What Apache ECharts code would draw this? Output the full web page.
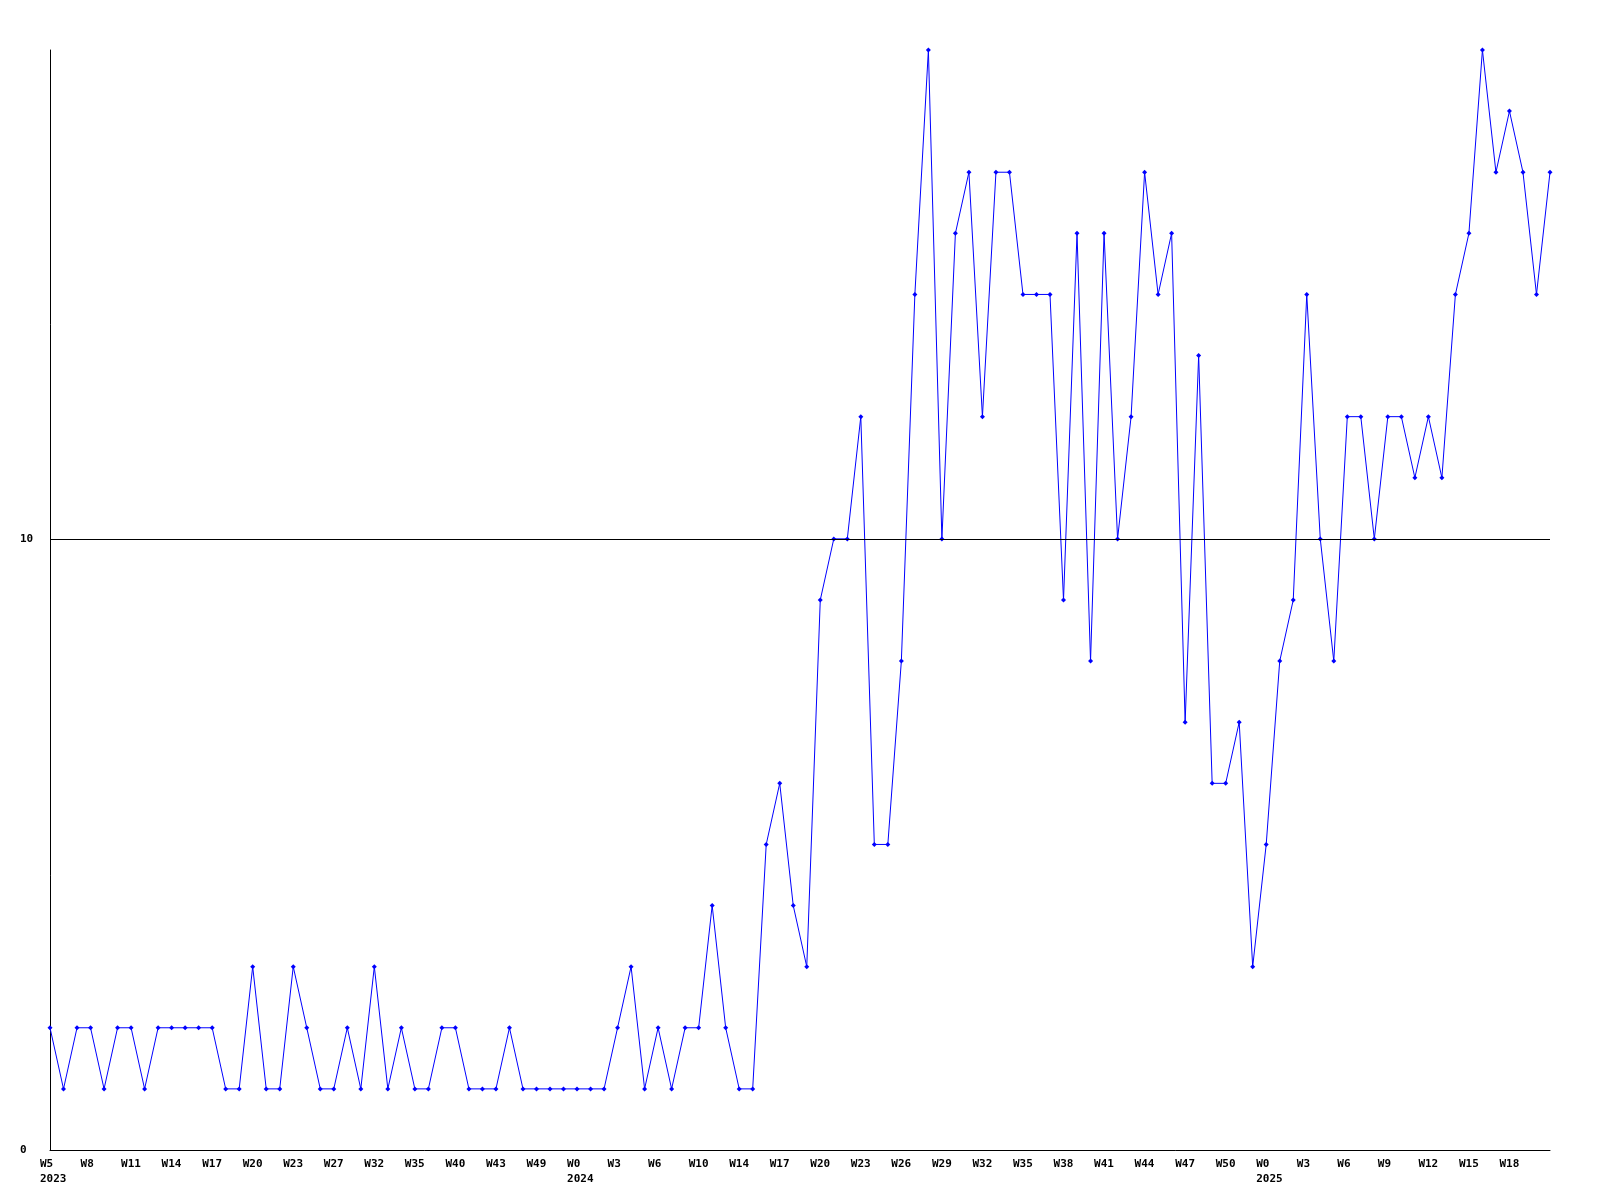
<!DOCTYPE html>
<html>
<head>
<meta charset="utf-8">
<script src="https://cdn.jsdelivr.net/npm/echarts@6/dist/echarts.min.js"></script>
<style>
html,body{margin:0;padding:0;background:#fff;}
#chart{width:1600px;height:1200px;}
</style>
</head>
<body>
<div id="chart"></div>
<script>
// Week numbers of each data point (only every third one is labelled on the axis)
const weeks = [
  5,6,7,8,9,10,11,12,13,14,15,16,17,18,19,20,21,22,23,24,25,27,28,30,32,33,34,35,37,38,
  40,41,42,43,45,47,49,50,51,
  0,1,2,3,4,5,6,8,9,10,12,13,14,15,16,17,18,19,20,21,22,23,24,25,26,27,28,29,30,31,32,
  33,34,35,36,37,38,39,40,41,42,43,44,45,46,47,48,49,50,51,52,
  0,1,2,3,4,5,6,7,8,9,10,11,12,13,14,15,16,17,18,19,20,21
];
const years = [
  2023,2023,2023,2023,2023,2023,2023,2023,2023,2023,2023,2023,2023,2023,2023,2023,2023,2023,2023,2023,
  2023,2023,2023,2023,2023,2023,2023,2023,2023,2023,2023,2023,2023,2023,2023,2023,2023,2023,2023,
  2024,2024,2024,2024,2024,2024,2024,2024,2024,2024,2024,2024,2024,2024,2024,2024,2024,2024,2024,2024,
  2024,2024,2024,2024,2024,2024,2024,2024,2024,2024,2024,2024,2024,2024,2024,2024,2024,2024,2024,2024,
  2024,2024,2024,2024,2024,2024,2024,2024,2024,2024,2024,
  2025,2025,2025,2025,2025,2025,2025,2025,2025,2025,2025,2025,2025,2025,2025,2025,2025,2025,2025,2025,
  2025,2025
];
const values = [
  2,1,2,2,1,2,2,1,2,2,2,2,2,1,1,3,1,1,3,2,1,1,2,1,3,1,2,1,
  1,2,2,1,1,1,2,1,1,1,1,1,1,1,2,3,1,2,1,2,2,4,2,1,1,
  5,6,4,3,9,10,10,12,5,5,8,14,18,10,15,16,12,16,16,14,14,14,9,15,8,15,10,12,16,14,
  15,7,13,6,6,7,3,5,8,9,14,10,8,12,12,10,12,12,11,12,11,14,15,18,16,17,16,14,16
];
const yTicks = [0, 10];
const yMax = 18;

const categories = weeks.map((w, i) => years[i] + '-W' + w);

const chart = echarts.init(document.getElementById('chart'), null, {renderer: 'canvas'});
const font = 'DejaVu Sans Mono';
chart.setOption({
  backgroundColor: '#ffffff',
  animation: false,
  grid: {left: 50, right: 50, top: 50, bottom: 50, containLabel: false},
  xAxis: {
    type: 'category',
    data: categories,
    boundaryGap: false,
    axisLine: {show: true, lineStyle: {color: '#000', width: 1}},
    axisTick: {show: false},
    splitLine: {show: false},
    axisLabel: {
      interval: 2,
      margin: 7,
      align: 'left',
      padding: [0, 0, 0, -10],
      color: '#000',
      fontFamily: font,
      fontWeight: 'bold',
      fontSize: 11,
      lineHeight: 15,
      formatter: function (v) {
        const i = categories.indexOf(v);
        if (i === categories.length - 1) return '';
        let s = 'W' + weeks[i];
        if (i === 0 || years[i] !== years[i - 1]) s += '\n' + years[i];
        return s;
      }
    }
  },
  yAxis: {
    type: 'value',
    min: 0,
    max: yMax,
    interval: 10,
    axisLine: {show: true, lineStyle: {color: '#000', width: 1}},
    axisTick: {show: false},
    splitLine: {show: false},
    axisLabel: {
      margin: 30,
      align: 'left',
      color: '#000',
      fontFamily: font,
      fontWeight: 'bold',
      fontSize: 11,
      formatter: function (v) { return yTicks.indexOf(v) >= 0 ? String(v) : ''; }
    }
  },
  series: [{
    type: 'line',
    data: values,
    symbol: 'diamond',
    symbolSize: 5,
    showAllSymbol: true,
    lineStyle: {color: '#0000ff', width: 1},
    itemStyle: {color: '#0000ff'},
    markLine: {
      silent: true,
      symbol: ['none', 'none'],
      label: {show: false},
      lineStyle: {color: '#000', width: 1, type: 'solid'},
      data: [{yAxis: 10}]
    },
    z: 3
  }]
});
</script>
</body>
</html>
